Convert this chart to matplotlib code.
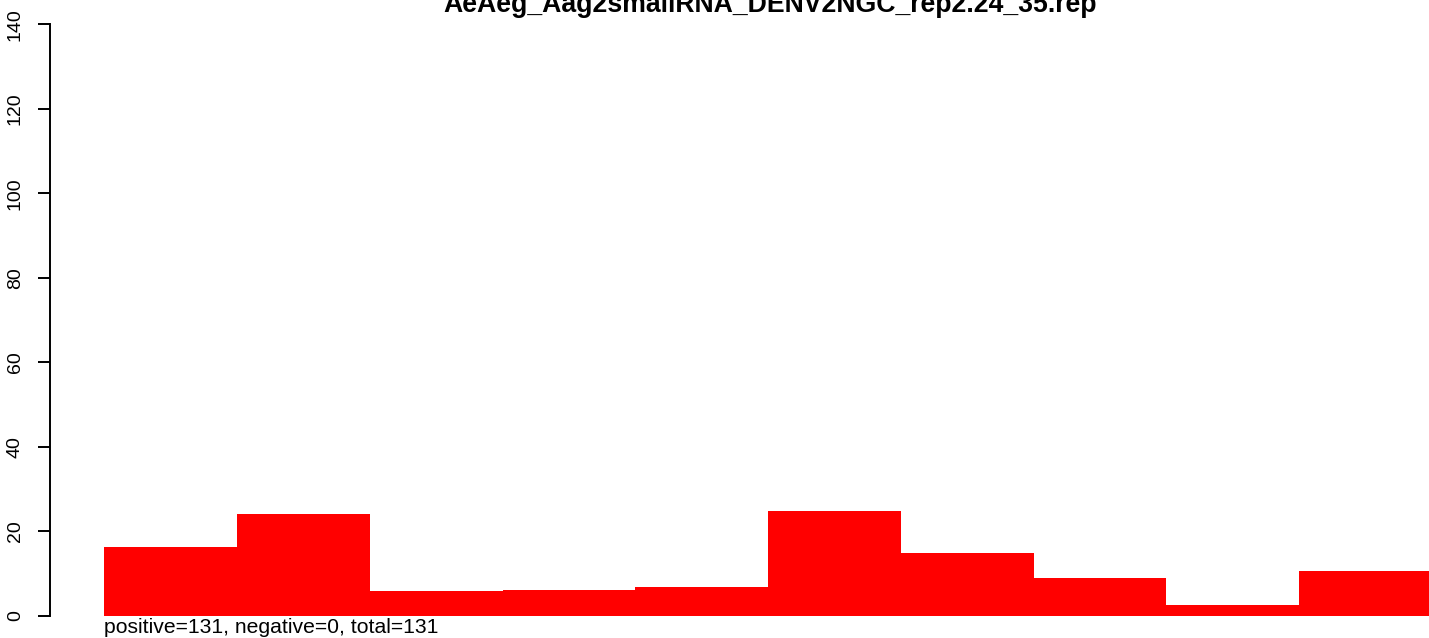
import numpy as np
import matplotlib
matplotlib.use('Agg')
import matplotlib.pyplot as plt

plt.rcParams['font.family'] = ['Liberation Sans', 'DejaVu Sans']

title = 'AeAeg_Aag2smallRNA_DENV2NGC_rep2.24_35.rep'
counts = [16.3, 24.1, 5.85, 6.15, 6.8, 24.8, 14.9, 8.9, 2.55, 10.6]
yticks = [0, 20, 40, 60, 80, 100, 120, 140]
summary = 'positive=131, negative=0, total=131'

W, H = 1429, 638
fig = plt.figure(figsize=(W / 100, H / 100), dpi=100)

# plot region: bars run from x=104 px to past the right edge
left, right = 104.3, 1432.0
bottom, top = 615.7, 24.2
ax = fig.add_axes([left / W, (H - bottom) / H, (right - left) / W, (bottom - top) / H])
ax.set_facecolor('none')

x = np.arange(len(counts))
ax.bar(x, counts, width=1.0, align='edge', color='#ff0000', linewidth=0)
ax.axhline(0, color='#999999', linewidth=1.2, zorder=0)

ax.set_xlim(0, len(counts))
ax.set_ylim(0, 140)
for s in ['top', 'right', 'bottom']:
    ax.spines[s].set_visible(False)
ax.spines['left'].set_position(('outward', (left - 50) * 0.72))
ax.spines['left'].set_bounds(0, 140)
ax.spines['left'].set_linewidth(1.4)
ax.set_xticks([])
ax.set_yticks(yticks)
ax.set_yticklabels([str(v) for v in yticks], rotation=90, va='center')
ax.tick_params(axis='y', length=8.9, width=1.4, pad=10, labelsize=14)

fig.text(770 / W, (H - 12) / H, title, ha='center', va='baseline',
         fontsize=19.2, fontweight='bold')
fig.text(left / W, (H - 633) / H, summary, ha='left', va='baseline', fontsize=15.2)

fig.savefig('out.png', dpi=100)
